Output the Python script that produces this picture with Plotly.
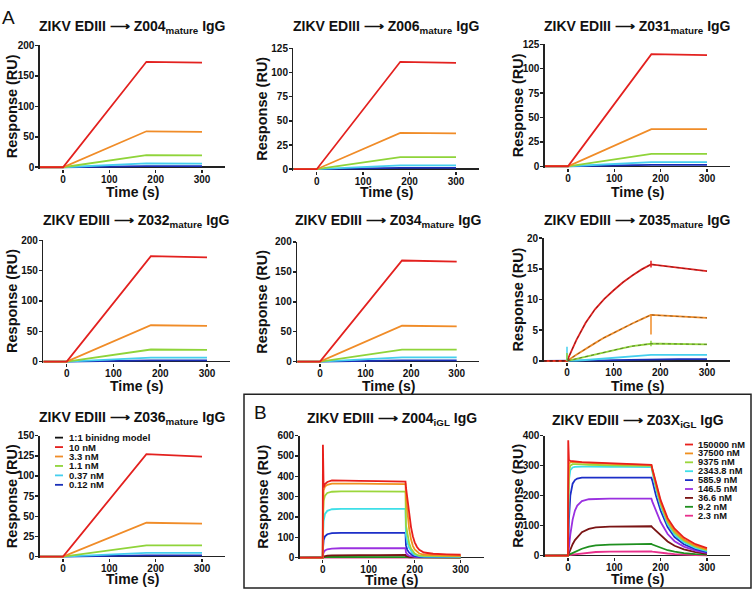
import plotly.graph_objects as go

W, H = 756, 596

# ---------- data ----------
# panel A: 1:1 fits sampled at baseline / injection start / injection end / end
t_A = [-50, 0, 180, 300]
conc_A = ["10 nM", "3.3 nM", "1.1 nM", "0.37 nM", "0.12 nM"]
z004_vals = [[0, 0, 173, 171.5], [0, 0, 59, 58], [0, 0, 20, 19.5], [0, 0, 6.5, 6], [0, 0, 2, 2]]
z006_vals = [[0, 0, 111, 110], [0, 0, 37.5, 37], [0, 0, 12.6, 12.6], [0, 0, 4, 4], [0, 0, 1.3, 1.3]]
z031_vals = [[0, 0, 115, 114], [0, 0, 38, 38], [0, 0, 12.8, 12.8], [0, 0, 4.2, 4.2], [0, 0, 1.4, 1.4]]
z032_vals = [[0, 0, 174, 172], [0, 0, 60, 59], [0, 0, 20, 19.5], [0, 0, 6.5, 6.5], [0, 0, 2, 2]]
z034_vals = [[0, 0, 169, 167], [0, 0, 60, 59], [0, 0, 20, 20], [0, 0, 7, 7], [0, 0, 2.2, 2.2]]
z036_vals = [[0, 0, 127, 124], [0, 0, 42, 41], [0, 0, 14, 14], [0, 0, 4.7, 4.7], [0, 0, 1.5, 1.5]]

# Z035 has a curved association
t_z035 = [-50, 0, 20, 40, 60, 80, 100, 120, 140, 160, 180, 200, 240, 270, 300]
z035_vals = [
    [0, 0, 3.4, 6.2, 8.4, 10.1, 11.5, 12.8, 13.9, 14.9, 15.7, 15.5, 15.1, 14.8, 14.6],
    [0, 0, 1.0, 2.0, 2.9, 3.8, 4.6, 5.4, 6.1, 6.8, 7.5, 7.4, 7.2, 7.1, 7.0],
    [0, 0, 0.35, 0.7, 1.1, 1.5, 1.8, 2.1, 2.4, 2.6, 2.8, 2.8, 2.75, 2.7, 2.7],
    [0, 0, 0.05, 0.15, 0.25, 0.35, 0.45, 0.6, 0.7, 0.85, 1.0, 1.0, 1.0, 1.0, 1.0],
    [0, 0, 0.02, 0.05, 0.08, 0.1, 0.13, 0.17, 0.2, 0.25, 0.3, 0.3, 0.3, 0.3, 0.3],
]
# injection artefacts (short vertical spikes) in the Z035 sensorgrams
z035_spike_t = [180, 180, 180, 0, 0]
z035_spike_lo = [15.2, 4.3, 2.4, 0, 0]
z035_spike_hi = [16.3, 7.6, 3.3, 2.3, 1.3]
z035_spike_series = [0, 1, 2, 3, 2]

# panel B
conc_B = ["150000 nM", "37500 nM", "9375 nM", "2343.8 nM", "585.9 nM",
          "146.5 nM", "36.6 nM", "9.2 nM", "2.3 nM"]
t_B1 = [-50, 0, 0.5, 2, 5, 10, 20, 40, 80, 120, 180,
        181, 184, 188, 192, 196, 200, 205, 210, 220, 240, 270, 300]
z004igl_vals = [
    [0, 0, 555, 345, 362, 372, 380, 380, 378, 376, 374, 345, 290, 210, 150, 105, 75, 52, 38, 25, 19, 16, 14],
    [0, 0, 200, 330, 350, 358, 364, 365, 364, 363, 362, 300, 220, 140, 90, 58, 40, 28, 20, 14, 11, 10, 9],
    [0, 0, 150, 280, 305, 318, 324, 326, 326, 325, 325, 160, 110, 70, 45, 30, 20, 14, 10, 8, 7, 6, 6],
    [0, 0, 90, 180, 215, 230, 238, 240, 240, 240, 240, 110, 75, 48, 30, 20, 13, 9, 7, 5, 4, 4, 4],
    [0, 0, 40, 85, 105, 115, 120, 122, 122, 122, 122, 60, 38, 24, 15, 10, 7, 5, 4, 3, 3, 3, 3],
    [0, 0, 10, 25, 35, 41, 44, 46, 46, 46, 46, 25, 15, 9, 6, 4, 3, 2, 2, 2, 2, 2, 2],
    [0, 0, 2, 5, 8, 10, 11, 12, 12, 12, 13, 8, 5, 3, 2, 2, 1, 1, 1, 1, 1, 1, 1],
    [0, 0, 1, 2, 3, 4, 4, 5, 5, 5, 5, 3, 2, 1, 1, 1, 0, 0, 0, 0, 0, 0, 0],
    [0, 0, 0, 1, 1, 1, 1, 1, 2, 2, 2, 1, 1, 1, 0, 0, 0, 0, 0, 0, 0, 0, 0],
]
t_B2 = [-50, 0, 0.5, 2, 5, 10, 15, 20, 30, 45, 60, 90, 120, 180,
        182, 190, 200, 215, 230, 250, 275, 300]
z03x_vals = [
    [0, 0, 385, 318, 316, 315, 314, 313, 312, 311, 310, 308, 306, 303, 290, 240, 185, 125, 90, 60, 38, 25],
    [0, 0, 200, 305, 312, 313, 312, 311, 310, 309, 308, 306, 304, 302, 288, 235, 178, 118, 82, 54, 33, 21],
    [0, 0, 150, 280, 300, 305, 305, 304, 304, 303, 302, 301, 300, 299, 285, 230, 172, 112, 77, 50, 30, 18],
    [0, 0, 100, 250, 285, 294, 296, 297, 297, 297, 296, 296, 296, 295, 280, 222, 165, 105, 70, 45, 26, 15],
    [0, 0, 30, 120, 200, 240, 252, 257, 260, 260, 260, 260, 260, 260, 250, 200, 150, 95, 62, 38, 22, 12],
    [0, 0, 5, 30, 70, 120, 150, 167, 182, 188, 189, 190, 190, 190, 180, 150, 112, 72, 48, 30, 17, 9],
    [0, 0, 1, 8, 20, 38, 52, 62, 78, 89, 94, 97, 98, 98, 94, 82, 66, 47, 33, 21, 12, 6],
    [0, 0, 0, 2, 5, 9, 13, 17, 23, 30, 34, 37, 38, 39, 37, 32, 26, 18, 13, 8, 5, 3],
    [0, 0, 0, 1, 2, 3, 4, 5, 7, 10, 12, 13, 14, 14, 13, 11, 9, 7, 5, 3, 2, 1],
]

colors_A = ["#e3211f", "#f08c28", "#8fd43a", "#45cfee", "#1a2fb8"]
colors_B = ["#e8201c", "#f0901e", "#9bd63b", "#3edfe8", "#1c2ec8",
            "#9a30e0", "#7a1414", "#1f8f1f", "#e8308c"]

FONT = "Liberation Sans, Arial, Helvetica, sans-serif"

# panel layout in pixels: name, x of t=0, x of t=300, y top, y of zero, ymax, dtick, data, colours, y-title x
panels = [
    ("Z004<sub>mature</sub>", 63, 202, 40, 164, 200, 50, t_A, z004_vals, colors_A, 12),
    ("Z006<sub>mature</sub>", 316.7, 456, 43, 166, 125, 25, t_A, z006_vals, colors_A, 262),
    ("Z031<sub>mature</sub>", 568, 707, 39, 163, 125, 25, t_A, z031_vals, colors_A, 518),
    ("Z032<sub>mature</sub>", 66.7, 207, 238.3, 361.7, 200, 50, t_A, z032_vals, colors_A, 12),
    ("Z034<sub>mature</sub>", 320, 456.7, 240, 361.7, 200, 50, t_A, z034_vals, colors_A, 262),
    ("Z035<sub>mature</sub>", 567, 707, 236, 361, 20, 5, t_z035, z035_vals, colors_A, 518),
    ("Z036<sub>mature</sub>", 63, 202, 437, 560, 150, 25, t_A, z036_vals, colors_A, 12),
    ("Z004<sub>iGL</sub>", 322.7, 460.7, 437, 561, 600, 100, t_B1, z004igl_vals, colors_B, 263),
    ("Z03X<sub>iGL</sub>", 568, 707, 437, 559, 400, 100, t_B2, z03x_vals, colors_B, 518),
]
title_y = [21, 21, 21, 219, 219, 219, 419, 420, 422]
time_y = [189, 189, 189, 386, 386, 386, 583, 583.5, 583]

fig = go.Figure()
annotations = []
shapes = []
layout = {}
PAD = 1.5

for i, (name, x0, x300, ytop, yzero, ymax, dt, tt, vals, cols, ylab_x) in enumerate(panels):
    k = "" if i == 0 else str(i + 1)
    ppu = (x300 - x0) / 300.0
    left = x0 - 50 * ppu
    right = x0 + 350 * ppu
    ypu = (yzero - ytop) / ymax
    ybot = yzero + PAD
    layout["xaxis" + k] = dict(
        domain=[left / W, right / W], range=[-50, 350], anchor="y" + k,
        showline=False, showgrid=False, zeroline=False,
        tickvals=[0, 100, 200, 300], ticks="outside", ticklen=3, tickwidth=1.5,
        tickcolor="#222", ticklabelstandoff=-2,
        tickfont=dict(family=FONT, size=10, color="#111", weight="bold"),
        fixedrange=True,
    )
    layout["yaxis" + k] = dict(
        domain=[1 - ybot / H, 1 - ytop / H], range=[-PAD / ypu, ymax], anchor="x" + k,
        showline=True, linecolor="#222", linewidth=1.5, showgrid=False,
        zeroline=True, zerolinecolor="#222", zerolinewidth=1.5,
        tick0=0, dtick=dt, ticks="outside", ticklen=3, tickwidth=1.5, tickcolor="#222",
        ticklabelstandoff=-1,
        tickfont=dict(family=FONT, size=10, color="#111", weight="bold"),
        fixedrange=True,
    )
    # draw lowest concentration first so the highest sits on top
    for j in range(len(vals) - 1, -1, -1):
        fig.add_trace(go.Scatter(
            x=tt, y=vals[j], mode="lines", xaxis="x" + k, yaxis="y" + k,
            line=dict(color=cols[j], width=1.8), showlegend=False, hoverinfo="skip",
        ))
    if i == 5:
        for st, lo, hi, s in zip(z035_spike_t, z035_spike_lo, z035_spike_hi, z035_spike_series):
            fig.add_trace(go.Scatter(
                x=[st, st], y=[lo, hi], mode="lines", xaxis="x" + k, yaxis="y" + k,
                line=dict(color=cols[s], width=1.5), showlegend=False, hoverinfo="skip",
            ))
        # 1:1 model fits, faint dark dotted overlay
        for j in range(3):
            fig.add_trace(go.Scatter(
                x=tt, y=vals[j], mode="lines", xaxis="x" + k, yaxis="y" + k,
                line=dict(color="rgba(20,20,20,0.55)", width=0.8, dash="dot"),
                showlegend=False, hoverinfo="skip",
            ))
    cx = (left + right) / 2
    annotations.append(dict(
        x=cx / W, y=1 - title_y[i] / H, xref="paper", yref="paper",
        text="<b>ZIKV EDIII ⟶ " + name + " IgG</b>", showarrow=False,
        font=dict(family=FONT, size=14, color="#111"), xanchor="center", yanchor="middle",
    ))
    annotations.append(dict(
        x=ylab_x / W, y=1 - (ytop + yzero) / 2 / H, xref="paper", yref="paper",
        text="<b>Response (RU)</b>", showarrow=False, textangle=-90,
        font=dict(family=FONT, size=14.5, color="#111"), xanchor="center", yanchor="middle",
    ))
    annotations.append(dict(
        x=cx / W, y=1 - time_y[i] / H, xref="paper", yref="paper",
        text="<b>Time (s)</b>", showarrow=False,
        font=dict(family=FONT, size=14, color="#111"), xanchor="center", yanchor="middle",
    ))

# panel letters
annotations.append(dict(x=8 / W, y=1 - 12 / H, xref="paper", yref="paper", text="A",
                        showarrow=False, font=dict(family=FONT, size=19, color="#111"),
                        xanchor="center", yanchor="middle"))
annotations.append(dict(x=260 / W, y=1 - 413 / H, xref="paper", yref="paper", text="B",
                        showarrow=False, font=dict(family=FONT, size=19, color="#111"),
                        xanchor="center", yanchor="middle"))

# box around panel B
shapes.append(dict(type="rect", xref="paper", yref="paper",
                   x0=244 / W, x1=751 / W, y0=1 - 592 / H, y1=1 - 395 / H,
                   line=dict(color="#222", width=1.5)))


def add_legend(labels, cols, line_x, text_x, y_first, step, size):
    for n, (lab, c) in enumerate(zip(labels, cols)):
        yy = y_first + n * step
        shapes.append(dict(type="line", xref="paper", yref="paper",
                           x0=line_x / W, x1=(line_x + 8) / W,
                           y0=1 - yy / H, y1=1 - yy / H, line=dict(color=c, width=1.8)))
        annotations.append(dict(x=text_x / W, y=1 - yy / H, xref="paper", yref="paper",
                                text="<b>" + lab + "</b>", showarrow=False,
                                font=dict(family=FONT, size=size, color="#111"),
                                xanchor="left", yanchor="middle"))


add_legend(["1:1 binidng model"] + conc_A, ["#111"] + colors_A, 55, 67, 439, 9.6, 9.5)
add_legend(conc_B, colors_B, 685, 696, 446, 9.05, 9.3)

fig.update_layout(
    width=W, height=H, margin=dict(l=0, r=0, t=0, b=0),
    paper_bgcolor="white", plot_bgcolor="white",
    annotations=annotations, shapes=shapes, showlegend=False,
    **layout,
)

# drop the default page margin so the figure sits at the window's top-left corner
fig.write_html("out.html", config={"staticPlot": True},
               post_script="document.body.style.margin='0';document.body.style.overflow='hidden';")
